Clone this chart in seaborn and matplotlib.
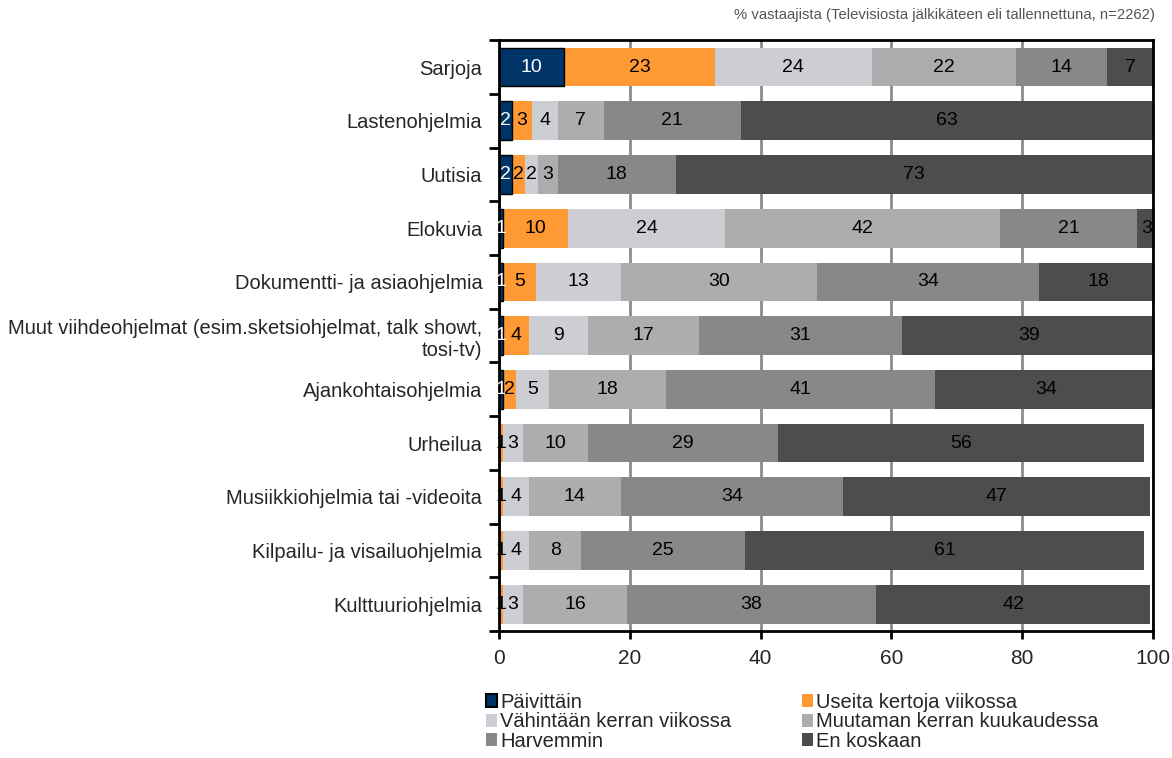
import numpy as np
import pandas as pd
import matplotlib
matplotlib.use("Agg")
import matplotlib.pyplot as plt
from matplotlib.patches import Patch
import seaborn as sns

sns.set_style("white")
plt.rcParams['font.family'] = ['Liberation Sans', 'DejaVu Sans']

# Data (% of respondents)
categories = [
    "Sarjoja",
    "Lastenohjelmia",
    "Uutisia",
    "Elokuvia",
    "Dokumentti- ja asiaohjelmia",
    "Muut viihdeohjelmat (esim.sketsiohjelmat, talk showt,\ntosi-tv)",
    "Ajankohtaisohjelmia",
    "Urheilua",
    "Musiikkiohjelmia tai -videoita",
    "Kilpailu- ja visailuohjelmia",
    "Kulttuuriohjelmia",
]
series_names = [
    "Päivittäin",
    "Useita kertoja viikossa",
    "Vähintään kerran viikossa",
    "Muutaman kerran kuukaudessa",
    "Harvemmin",
    "En koskaan",
]
paivittain = [10, 2, 2, 0.6, 0.6, 0.6, 0.6, 0, 0, 0, 0]
useita     = [23, 3, 2, 10, 5, 4, 2, 0.6, 0.6, 0.6, 0.6]
vahintaan  = [24, 4, 2, 24, 13, 9, 5, 3, 4, 4, 3]
muutaman   = [22, 7, 3, 42, 30, 17, 18, 10, 14, 8, 16]
harvemmin  = [14, 21, 18, 21, 34, 31, 41, 29, 34, 25, 38]
en_koskaan = [7, 63, 73, 3, 18, 39, 34, 56, 47, 61, 42]

colors = ["#003366", "#FF9933", "#CDCED4", "#ADADAD", "#888888", "#4D4D4D"]
text_colors = ["white", "black", "black", "black", "black", "black"]

df = pd.DataFrame({"cat": categories})
series = [paivittain, useita, vahintaan, muutaman, harvemmin, en_koskaan]
for name, vals in zip(series_names, series):
    df[name] = vals
cum = df[series_names].cumsum(axis=1)

fig = plt.figure(figsize=(11.72, 7.58), dpi=100)
ax = fig.add_axes([0.4258, 0.1675, 0.9838 - 0.4258, 0.947 - 0.1675])

# draw cumulative bars from the longest to the shortest so segments stack
for i in range(len(series_names) - 1, -1, -1):
    name = series_names[i]
    plot_df = pd.DataFrame({"cat": categories, "val": cum[name]})
    sns.barplot(data=plot_df, x="val", y="cat", orient="h", color=colors[i],
                saturation=1, width=0.72, errorbar=None, ax=ax,
                edgecolor="black" if i == 0 else "none",
                linewidth=1.0 if i == 0 else 0, zorder=2)

# segment labels
for i, name in enumerate(series_names):
    for j in range(len(categories)):
        v = df[name].iloc[j]
        if v <= 0:
            continue
        center = cum[name].iloc[j] - v / 2
        ax.text(center, j, f"{v:.0f}", ha="center", va="center",
                fontsize=14, color=text_colors[i], zorder=3, clip_on=False)

ax.set_xlim(0, 100)
ax.set_ylim(len(categories) - 0.5, -0.5)
ax.set_xticks([0, 20, 40, 60, 80, 100])
ax.set_xlabel("")
ax.set_ylabel("")
ax.grid(axis="x", color="#8C8C8C", linewidth=2, zorder=0)
ax.grid(axis="y", visible=False)
ax.set_axisbelow(True)

for s in ax.spines.values():
    s.set_color("black")
    s.set_linewidth(2)
    s.set_visible(True)

ax.set_yticks(np.arange(-0.5, len(categories), 1), minor=True)
ax.tick_params(axis="y", which="major", left=True, length=0, labelsize=14.5, pad=12)
ax.tick_params(axis="y", which="minor", left=True, length=7, width=2,
               color="black", direction="out")
ax.tick_params(axis="x", which="major", bottom=True, length=6, width=2,
               color="black", direction="out", labelsize=15, pad=7)
for lab in ax.get_yticklabels():
    lab.set_horizontalalignment("right")
    lab.set_multialignment("right")

fig.text(0.9855, 0.980, "% vastaajista (Televisiosta jälkikäteen eli tallennettuna, n=2262)",
         ha="right", va="center", fontsize=10.7, color="#555555")

handles = [Patch(facecolor=c, edgecolor="black" if k == 0 else c,
                 linewidth=1.5 if k == 0 else 0)
           for k, c in enumerate(colors)]
order = [0, 2, 4, 1, 3, 5]
fig.legend([handles[k] for k in order], [series_names[k] for k in order],
           loc="upper left", bbox_to_anchor=(0.415, 0.086),
           ncol=2, frameon=False, fontsize=14.5, handlelength=0.55,
           handleheight=0.6, handletextpad=0.15, labelspacing=0.02,
           columnspacing=3.5, borderaxespad=0, borderpad=0)

fig.savefig("out.png", dpi=100)
